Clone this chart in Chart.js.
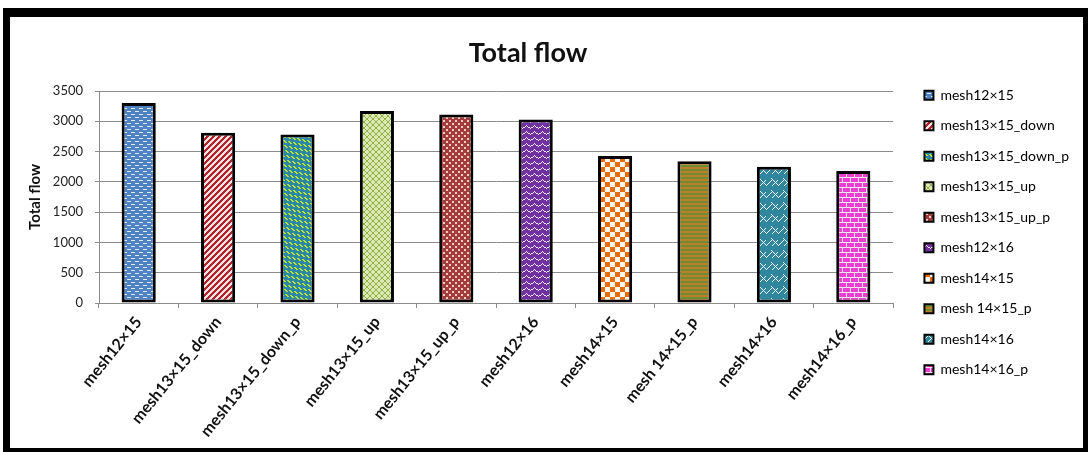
<!DOCTYPE html>
<html>
<head>
<meta charset="utf-8">
<title>Total flow</title>
<script src="https://cdn.jsdelivr.net/npm/chart.js@4.4.1/dist/chart.umd.min.js"></script>
<style>
  html, body { margin: 0; padding: 0; background: #fff; }
  #frame {
    position: absolute; left: 3px; top: 8px;
    width: 1073px; height: 431px;
    border-style: solid; border-color: #000;
    border-width: 9px 5px 4px 7px;
    background: #fff;
  }
  canvas { display: block; }
</style>
</head>
<body>
<div id="frame"><canvas id="chart" width="1073" height="431"></canvas></div>
<script>
// Mesh variants and their total flow
const categories = [
  'mesh12×15', 'mesh13×15_down', 'mesh13×15_down_p', 'mesh13×15_up', 'mesh13×15_up_p',
  'mesh12×16', 'mesh14×15', 'mesh 14×15_p', 'mesh14×16', 'mesh14×16_p'
];
const totalFlow = [3300, 2810, 2780, 3170, 3110, 3030, 2425, 2340, 2250, 2180];
const yAxisMin = 0;
const yAxisMax = 3500;
const yAxisStep = 500;

const FONT = "Lato, 'Open Sans', 'DejaVu Sans', sans-serif";
const GRID = '#8c8c8c';

// Outer paddings: the title is centred between them, the legend sits against the right one
const PAD_LEFT = -33;
const PAD_RIGHT = 4;
const PLOT_LEFT = 89;    // left edge of the plotting area
const PLOT_RIGHT = 883;  // right edge of the plotting area

// Small bitmap fills, one per bar, built pixel by pixel
function pixelPattern(w, h, colorAt) {
  const c = document.createElement('canvas');
  c.width = w; c.height = h;
  const g = c.getContext('2d');
  for (let y = 0; y < h; y++) {
    for (let x = 0; x < w; x++) {
      g.fillStyle = colorAt(x, y);
      g.fillRect(x, y, 1, 1);
    }
  }
  return g.createPattern(c, 'repeat');
}
const mod = (a, n) => ((a % n) + n) % n;

const fills = [
  // blue with light dashes
  pixelPattern(8, 6, (x, y) => {
    const row = Math.floor(y / 3);
    const xs = mod(x - row * 4, 8);
    return (y % 3 === 1 && xs >= 1 && xs <= 4) ? '#dfeaf8' : '#4f82c0';
  }),
  // red with light diagonal stripes
  pixelPattern(6, 6, (x, y) => (mod(x + y, 6) < 3 ? '#f6e1e1' : '#b0252d')),
  // teal shingles on lime
  pixelPattern(24, 24, (x, y) => {
    const u = x + y;
    const k = Math.floor(u / 6);
    const across = Math.abs(mod(u, 6) - 2.5);
    const along = mod(x - y + k * 4, 8);
    return (across < 2.6 && along < 6) ? '#2c88a2' : '#b9e33a';
  }),
  // pale green with small rings
  pixelPattern(6, 6, (x, y) => {
    const d = Math.hypot(x - 2.5, y - 2.5);
    return (d > 1.6 && d < 2.9) ? '#93b04d' : '#dde9b2';
  }),
  // dark red with pink squares
  pixelPattern(6, 6, (x, y) => {
    const a = x >= 1 && x <= 2 && y >= 1 && y <= 2;
    const b = x >= 4 && x <= 5 && y >= 4 && y <= 5;
    return (a || b) ? '#f5c9c4' : '#a13c3a';
  }),
  // purple with white zigzags
  pixelPattern(8, 6, (x, y) => {
    const t = Math.round(Math.abs(mod(x, 8) - 4) * 0.75);
    return mod(y - t, 6) === 0 ? '#efe4f6' : '#7030a0';
  }),
  // orange and white checkerboard
  pixelPattern(10, 10, (x, y) => ((Math.floor(x / 5) + Math.floor(y / 5)) % 2 === 0 ? '#e46c0a' : '#fdf6ee')),
  // olive with orange horizontal stripes
  pixelPattern(1, 4, (x, y) => (y < 2 ? '#6f8c30' : '#bd7e2c')),
  // teal with white trellis
  pixelPattern(12, 12, (x, y) => {
    const a = mod(x + y, 12) === 0 && mod(x, 12) < 7;
    const b = mod(x - y, 12) === 0 && mod(x, 12) >= 5;
    const c = mod(x + y - 6, 12) === 0 && mod(x, 12) >= 6;
    return (a || b || c) ? '#eef6f8' : '#31869f';
  }),
  // magenta bricks
  pixelPattern(8, 10, (x, y) => {
    const mortar = y % 5 === 0 || (y < 5 ? x === 0 : x === 4);
    return mortar ? '#fbe6f7' : '#e83fd0';
  })
];

const chart = new Chart(document.getElementById('chart'), {
  type: 'bar',
  data: {
    labels: categories,
    datasets: [{
      label: 'Total flow',
      data: totalFlow,
      backgroundColor: fills,
      borderColor: '#000',
      borderWidth: 3,
      borderSkipped: false,
      categoryPercentage: 1,
      barPercentage: 0.43,
      xAxisID: 'x',
      yAxisID: 'y'
    }]
  },
  options: {
    responsive: false,
    devicePixelRatio: 1,
    animation: false,
    layout: { padding: { left: PAD_LEFT, right: PAD_RIGHT, top: 0, bottom: 0 } },
    plugins: {
      title: {
        display: true,
        text: 'Total flow',
        color: '#111',
        font: { family: FONT, size: 27, weight: 'bold' },
        padding: { top: 20, bottom: 21.6 }
      },
      legend: {
        position: 'right',
        align: 'center',
        labels: {
          boxWidth: 9,
          boxHeight: 9,
          padding: 16.5,
          color: '#222',
          font: { family: FONT, size: 14 },
          generateLabels: (c) => c.data.labels.map((label, i) => ({
            text: label,
            fillStyle: fills[i],
            strokeStyle: '#000',
            lineWidth: 2,
            hidden: false,
            index: i,
            datasetIndex: 0
          }))
        }
      },
      tooltip: { enabled: false }
    },
    scales: {
      x: {
        grid: { display: true, drawOnChartArea: false, drawTicks: true, tickLength: 5, offset: true, color: GRID },
        border: { display: true, color: GRID },
        ticks: {
          autoSkip: false, minRotation: 51, maxRotation: 51, padding: 5,
          color: '#111', font: { family: FONT, size: 16, weight: 'bold' }
        },
        afterFit: (s) => { s.height = 145; }
      },
      y: {
        min: yAxisMin,
        max: yAxisMax,
        ticks: {
          stepSize: yAxisStep, padding: 12, color: '#222',
          font: { family: FONT, size: 13 },
          callback: (v) => String(v)
        },
        grid: { color: GRID, tickLength: 4 },
        border: { display: true, color: GRID },
        title: {
          display: true, text: 'Total flow', color: '#111',
          font: { family: FONT, size: 15, weight: 'bold' },
          padding: { top: 25 - PAD_LEFT - 9, bottom: 0 }
        },
        afterFit: (s) => { s.width = PLOT_LEFT - PAD_LEFT; }
      },
      // empty strip between the plot and the legend
      gap: {
        type: 'linear',
        position: 'right',
        display: true,
        grid: { display: false },
        ticks: { display: false },
        border: { display: false },
        afterFit: (s) => {
          const legendWidth = s.chart.legend ? s.chart.legend.width : 0;
          s.width = Math.max(0, s.chart.width - PAD_RIGHT - legendWidth - PLOT_RIGHT);
        }
      }
    }
  }
});
</script>
</body>
</html>
